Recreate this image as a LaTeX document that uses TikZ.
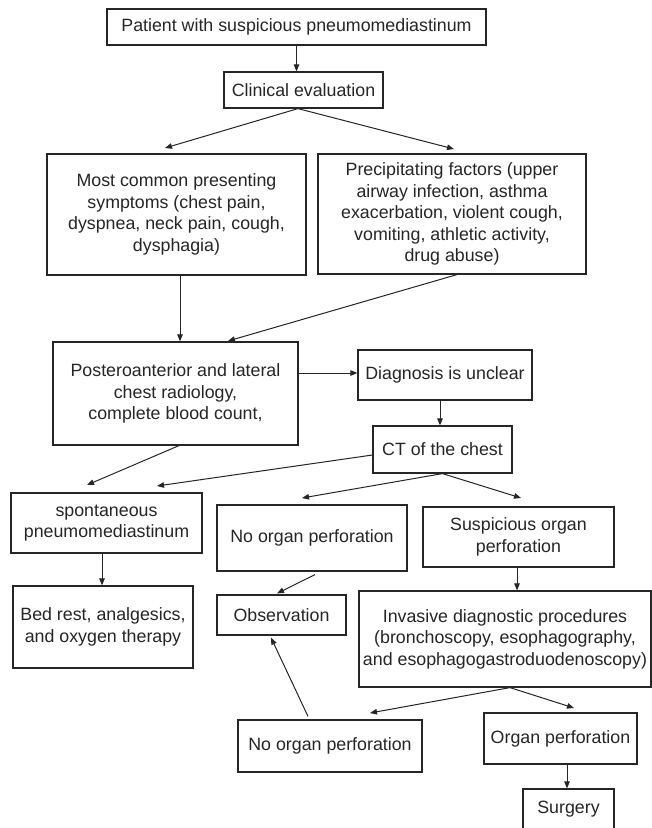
\documentclass[tikz,border=0pt]{standalone}
\usepackage{fontspec}
\setmainfont{Liberation Sans}
\usetikzlibrary{arrows.meta}
\definecolor{ink}{HTML}{262626}
\begin{document}
\begin{tikzpicture}[x=1pt,y=-1pt,
  box/.style={draw=ink, line width=1.2pt, align=center, inner sep=0pt, text=ink,
    font=\fontsize{17.8}{21.5}\selectfont},
  arr/.style={draw=ink, line width=1pt, -{Triangle[length=7pt,width=5.5pt]}}]
\useasboundingbox (0,0) rectangle (652,828);
\fill[white] (0,0) rectangle (652,828);

\node[box, minimum width=379pt, minimum height=36pt] (patient) at (296.5,27) {Patient with suspicious pneumomediastinum};
\node[box, minimum width=159pt, minimum height=36pt] (clinical) at (303.5,90) {Clinical evaluation};
\node[box, minimum width=259pt, minimum height=121pt] (common) at (176.5,214.5) {Most common presenting\\symptoms (chest pain,\\dyspnea, neck pain, cough,\\dysphagia)};
\node[box, minimum width=268pt, minimum height=120pt] (precip) at (452,214) {Precipitating factors (upper\\airway infection, asthma\\exacerbation, violent cough,\\vomiting, athletic activity,\\drug abuse)};
\node[box, minimum width=245pt, minimum height=103pt] (postero) at (175.5,393.5) {Posteroanterior and lateral\\chest radiology,\\complete blood count,};
\node[box, minimum width=174pt, minimum height=50pt] (diag) at (445,375) {Diagnosis is unclear};
\node[box, minimum width=139pt, minimum height=47pt] (ct) at (442.5,449.5) {CT of the chest};
\node[box, minimum width=191pt, minimum height=60pt] (spont) at (106.5,523) {spontaneous\\pneumomediastinum};
\node[box, minimum width=190pt, minimum height=66pt] (noorg1) at (312,538) {No organ perforation};
\node[box, minimum width=191pt, minimum height=60pt] (susp) at (518.5,537) {Suspicious organ\\perforation};
\node[box, minimum width=180pt, minimum height=82pt] (bedrest) at (103,627) {Bed rest, analgesics,\\and oxygen therapy};
\node[box, minimum width=129pt, minimum height=40pt] (obs) at (281.5,615) {Observation};
\node[box, minimum width=292pt, minimum height=96pt] (inv) at (505,639) {Invasive diagnostic procedures\\(bronchoscopy, esophagography,\\and esophagogastroduodenoscopy)};
\node[box, minimum width=184pt, minimum height=52pt] (noorg2) at (330,746) {No organ perforation};
\node[box, minimum width=153pt, minimum height=51pt] (organ) at (560.5,738.5) {Organ perforation};
\node[box, minimum width=91pt, minimum height=40pt] (surgery) at (568.5,809) {Surgery};

\coordinate (t2) at (165,148);
\coordinate (t3) at (454,149);
\coordinate (t5) at (228,341);
\coordinate (t8) at (157,486);
\coordinate (t9) at (87,485);
\coordinate (t10) at (302,498);
\coordinate (t11) at (521,498);
\coordinate (t15) at (370,713);
\coordinate (t16) at (574,708);

\draw[arr] (patient.south) -- (patient.south |- clinical.north);
\draw[arr] ([xshift=-5.5pt]clinical.south) -- (t2);
\draw[arr] ([xshift=-5.5pt]clinical.south) -- (t3);
\draw[arr] ([xshift=3.5pt]common.south) coordinate (s4) -- (s4 |- postero.north);
\draw[arr] ([xshift=5pt]precip.south) -- (t5);
\draw[arr] ([yshift=20.5pt]postero.east) coordinate (s6) -- (s6 -| diag.west);
\draw[arr] ([xshift=-5pt]diag.south) coordinate (s7) -- (s7 |- ct.north);
\draw[arr] ([yshift=-5.5pt]ct.west) -- (t8);
\draw[arr] ([xshift=3.5pt]postero.south) -- (t9);
\draw[arr] (ct.south) -- (t10);
\draw[arr] (ct.south) -- (t11);
\draw[arr] ([xshift=-4.5pt]spont.south) coordinate (s12) -- (s12 |- bedrest.north);
\draw[arr] ([xshift=3pt,yshift=-3pt]noorg1.south) -- ([xshift=-4.5pt,yshift=1pt]obs.north);
\draw[arr] ([xshift=-1.5pt]susp.south) coordinate (s14) -- (s14 |- inv.north);
\draw[arr] ([xshift=5pt]inv.south) -- (t15);
\draw[arr] ([xshift=5pt]inv.south) -- (t16);
\draw[arr] ([xshift=-22pt,yshift=3pt]noorg2.north) -- ([xshift=-10.5pt,yshift=-2pt]obs.south);
\draw[arr] ([xshift=6.5pt]organ.south) coordinate (s18) -- (s18 |- surgery.north);
\end{tikzpicture}
\end{document}
